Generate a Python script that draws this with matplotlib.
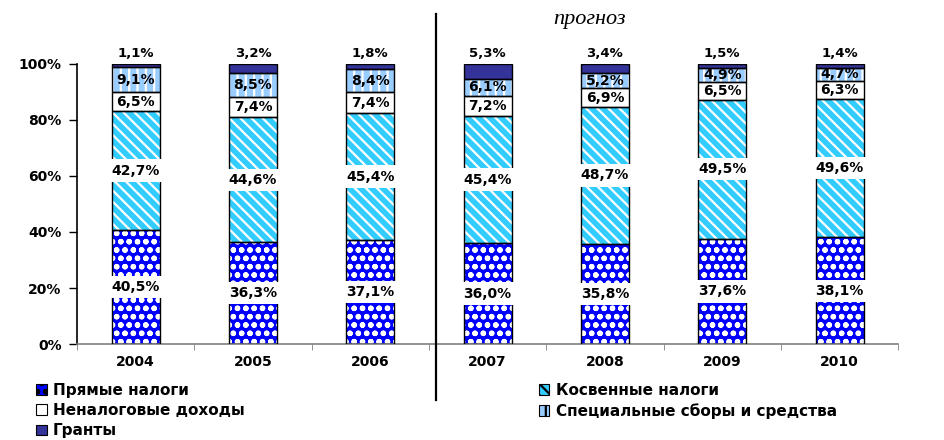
import numpy as np
import matplotlib.pyplot as plt
from matplotlib.patches import Patch
from matplotlib.lines import Line2D

years = ['2004', '2005', '2006', '2007', '2008', '2009', '2010']
direct = [40.5, 36.3, 37.1, 36.0, 35.8, 37.6, 38.1]
indirect = [42.7, 44.6, 45.4, 45.4, 48.7, 49.5, 49.6]
nontax = [6.5, 7.4, 7.4, 7.2, 6.9, 6.5, 6.3]
special = [9.1, 8.5, 8.4, 6.1, 5.2, 4.9, 4.7]
grants = [1.1, 3.2, 1.8, 5.3, 3.4, 1.5, 1.4]

names = ['Прямые налоги', 'Косвенные налоги', 'Неналоговые доходы',
         'Специальные сборы и средства', 'Гранты']

plt.rcParams['font.family'] = ['DejaVu Sans']
plt.rcParams['font.weight'] = 'bold'
plt.rcParams['hatch.linewidth'] = 1.6

series = [direct, indirect, nontax, special, grants]
data = np.array(series)
totals = data.sum(axis=0)
shares = data / totals * 100

faces = ['#0000ff', '#33ccff', '#ffffff', '#99ccff', '#333399']
hatches = ['oo', '\\\\\\', '', '||', '']

fig = plt.figure(figsize=(9.45, 4.4), dpi=100)
ax = fig.add_axes([0.0815, 0.218, 0.869, 0.637])

x = np.arange(len(years))
w = 0.41
bottom = np.zeros(len(years))
for i in range(5):
    ax.bar(x, shares[i], w, bottom=bottom, color=faces[i], hatch=hatches[i],
           edgecolor='white', linewidth=0, zorder=2)
    ax.bar(x, shares[i], w, bottom=bottom, fill=False, edgecolor='black',
           linewidth=1.0, zorder=3)
    for j in range(len(years)):
        txt = ('%.1f%%' % series[i][j]).replace('.', ',')
        if i == 4:
            ax.text(x[j], 103.5, txt, ha='center', va='center', fontsize=9.5,
                    zorder=5, clip_on=False)
        elif i < 2:
            ax.text(x[j], bottom[j] + shares[i][j] / 2, txt, ha='center',
                    va='center', fontsize=10, zorder=5,
                    bbox=dict(facecolor='white', edgecolor='none', pad=3))
        else:
            ax.text(x[j], bottom[j] + shares[i][j] / 2, txt, ha='center',
                    va='center', fontsize=10, zorder=5)
    bottom += shares[i]

ax.set_xlim(-0.5, len(years) - 0.5)
ax.set_ylim(0, 100)
ax.set_yticks([0, 20, 40, 60, 80, 100])
ax.set_yticklabels(['0%', '20%', '40%', '60%', '80%', '100%'], fontsize=10)
ax.set_xticks(x)
ax.set_xticklabels(years, fontsize=10)
ax.set_xticks(np.arange(len(years) + 1) - 0.5, minor=True)
ax.tick_params(axis='x', which='major', length=0, pad=8)
ax.tick_params(axis='x', which='minor', length=4, color='#808080', direction='out')
ax.tick_params(axis='y', length=6, width=1, direction='out', pad=5)
ax.spines['top'].set_visible(False)
ax.spines['right'].set_visible(False)
ax.spines['bottom'].set_color('#808080')
ax.spines['bottom'].set_linewidth(1.2)
ax.spines['left'].set_linewidth(1.2)

# separator between actual and forecast
fig.add_artist(Line2D([0.4615, 0.4615], [0.968, 0.09], color='black',
                      linewidth=1.6, transform=fig.transFigure))
fig.text(0.624, 0.955, 'прогноз', family='Liberation Serif', style='italic',
         weight='normal', fontsize=16, ha='center', va='center')

handles = [Patch(facecolor=faces[i], hatch=hatches[i], edgecolor='black',
                 linewidth=0.8) for i in range(5)]
leg1 = fig.legend([handles[0], handles[2], handles[4]],
                  [names[0], names[2], names[4]], loc='upper left',
                  bbox_to_anchor=(0.03, 0.148), frameon=False, fontsize=11,
                  handlelength=0.7, handleheight=0.7, handletextpad=0.4,
                  labelspacing=0.35, borderpad=0)
leg2 = fig.legend([handles[1], handles[3]], [names[1], names[3]],
                  loc='upper left', bbox_to_anchor=(0.562, 0.148),
                  frameon=False, fontsize=11, handlelength=0.7,
                  handleheight=0.7, handletextpad=0.4, labelspacing=0.35,
                  borderpad=0)

fig.savefig('out.png', dpi=100)
